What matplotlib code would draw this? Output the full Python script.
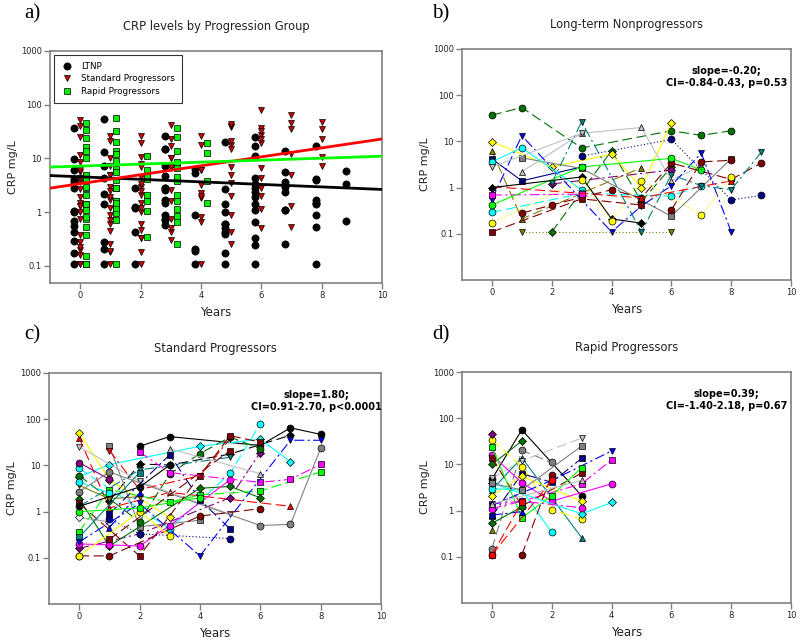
import numpy as np
import matplotlib
matplotlib.use("Agg")
import matplotlib.pyplot as plt

# ---------------- data ----------------
# Long-term nonprogressors: per-patient visit years and CRP (mg/L)
ltnp_years = [[0,1,3,6,7,8],[2,4,5,6],[0,2,4,5,6],[0,1,5],[0,1,3],[1,3,5,6,7],
              [1,3,6,8],[0,1,4,5,6,7,8],[0,1,3],[0,3,6,7],[1,2,4,5,6,8,9],[0,3,5],
              [6,7,8],[0,3],[2,6],[0,3,6,7],[0,5,8],[0,3,4,5],[0,3,4,5,7,8],
              [2,3,5,6,7,8,9],[1,6],[3,6,8,9],[0,3]]
ltnp_crp = [[37,54,7.2,17,13.5,17],[0.11,6.3,0.5,2.8],[9.9,2.8,5.3,1.0,25.6],[6.2,0.21,2.7],
            [4.2,1.4,2.8],[2.2,15,20,1.4,3.0],[4.4,2.6,0.24,4.2],[0.55,13.3,0.11,0.4,1.1,5.6,0.11],
            [3.6,7.3,0.9],[0.29,0.75,0.66,1.1],[0.28,0.42,0.9,0.6,3.4,1.5,3.4],[0.11,0.57,0.42],
            [0.33,3.6,3.9],[0.69,0.72],[1.2,2.4],[0.42,2.8,4.3,2.4],[1.05,0.6,1.4],[1.0,1.7,0.21,0.17],
            [0.17,1.45,0.19,1.4,0.26,1.7],[1.25,26.7,0.11,1.9,1.1,0.9,5.8],[0.11,0.11],
            [4.8,11,0.54,0.68],[2.8,15]]
ltnp_colors = ['darkgreen','darkgreen','yellow','olive','navy','silver','gray','blue','cyan','cyan',
               'darkred','darkred','darkred','magenta','purple','lime','red','black','yellow','teal',
               'olive','navy','silver']
ltnp_markers = ['o','D','D','^','s','^','s','v','o','o','o','s','o','s','D','o','^','D','o','v','v','o','v']
ltnp_lines = ['dash','dash','solid','dash','solid','solid','solid','dashdot','solid','dash','dash','dash',
              'dash','dashdot','dashdot','solid','dash','solid','dot','dashdot','dot','dot','solid']

# Standard progressors
sp_years = [[2,3,6,7,8],[1,2,3,5,7],[0,1,4,6,7],[0,3,5,6],[0,1,3,7],[0,1,3],[0,2,5],[1,2,4],
            [1,2,4,5],[0,1],[0,2,5,6],[0,2,3,4,5,6],[0,1,2],[0,1,6,7,8],[0,1,4,5,6],[0,2,4,5,6],
            [0,2,5],[0,1],[0,1,3,4,6,8],[0,2],[0,1,2,3,5],[2,3,6,7,8],[0,1,4,6],[1,3,4,5],
            [1,2,5],[1,2],[0,2,4,7,8],[0,2,3],[0,2,4],[3,6],[0,1],[1,5],[0,2,3]]
sp_crp = [[26,42,27,65,47],[1.7,10.7,10.2,17.6,45],[5.7,10.4,26,37,12],[8.6,0.42,6.8,79],
          [40,1.2,2.6,1.3],[51,4.9,0.75],[25.5,4.5,0.88],[26,0.47,0.65],[21,3.0,6,38],[11.5,5.0],
          [0.16,0.33,2.0,19],[6,0.6,6.5,18,41,23],[3.7,1.9,2.1],[2.7,7.2,0.5,0.53,23.5],
          [1.9,0.18,3.2,3.5,2.0],[1.5,0.11,6,44,32],[1.3,8,15],[0.75,0.6],[0.37,3.0,1.6,2.3,2.8,7.2],
          [0.28,7],[0.2,0.19,0.18,0.5,4.9],[19.5,7,4.3,5,10.5],[0.11,0.11,0.8,1.16],[0.9,17,1.8,0.42],
          [0.7,0.33,0.26],[0.45,2.5],[0.22,1.5,0.11,35,35],[0.11,1.0,0.3],[1.0,1.2,2.0],[23,6.6],
          [4.4,2.5],[0.25,21],[1.3,3.4,10.2]]
sp_colors = ['black','black','cyan','cyan','red','yellow','silver','gray','red','purple','purple',
             'darkgreen','olive','gray','darkgreen','darkred','teal','white','lime','teal','magenta',
             'magenta','darkred','navy','navy','blue','blue','yellow','lime','silver','cyan','darkred','black']
sp_markers = ['o','D','D','o','^','D','v','s','v','o','D','o','v','o','D','s','v','D','s','s','o','s',
              'o','s','o','^','v','o','o','^','o','s','o']
sp_lines = ['solid','dash','solid','dash','dash','solid','solid','solid','dashdot','solid','dashdot',
            'dash','solid','solid','solid','dash','dashdot','solid','dash','solid','solid','dashdot',
            'dash','dashdot','dot','dashdot','dashdot','solid','solid','solid','dashdot','dash','solid']

# Rapid progressors
rp_years = [[0,1,3],[0,1],[0,1,2],[0,1,3],[0,1,3],[0,1,2,3],[0,1,2,3],[0,1,3],[0,1,2,4],[0,1,2],
            [0,1,3,4],[0,1,3],[0,2,4],[0,1,2,3],[1,2],[0,2],[0,1],[0],[0,1],[0],[0,3,4],[0,1,3],
            [0,3],[0,1,3],[0,1]]
rp_crp = [[4.8,56,2.1],[10,32],[0.15,20,11],[2.8,14,0.26],[5,12,37],[34,9,1.05,0.65],
          [0.75,6.3,4.1,13.5],[2.1,5.5,1.6],[16,4,1.6,3.8],[3.0,2.8,0.34],[1.4,1.6,3.8,12.5],
          [14,1.25,6.5],[1.3,4.5,19.5],[24,0.7,2.1,8.5],[0.11,6],[0.11,4.5],[0.8,0.95],[45],
          [0.53,1.2],[0.38],[3.9,0.85,1.5],[1.1,1.6,1.15],[1.4,4.5],[3.9,2.8,25],[0.11,1.5]]
rp_colors = ['black','darkgreen','gray','teal','silver','yellow','navy','yellow','magenta','cyan',
             'magenta','darkred','blue','lime','darkred','red','blue','purple','darkgreen','olive',
             'cyan','magenta','silver','gray','red']
rp_markers = ['o','D','o','^','v','o','s','D','o','o','s','s','v','s','o','o','^','D','D','^','D','o',
              '^','s','s']
rp_lines = ['solid','solid','dash','solid','dash','dash','dashdot','solid','solid','solid','dashdot',
            'dash','dashdot','solid','dash','dash','dashdot','solid','solid','solid','solid','dashdot',
            'solid','solid','dash']

# Regression lines of panel a (log10 CRP vs years)
group_names = ['LTNP', 'Standard Progressors', 'Rapid Progressors']
fit_crp_at_year0 = [4.55, 3.39, 7.2]
fit_log10_slope = [-0.0235, 0.0832, 0.0184]

panel_titles = ['CRP levels by Progression Group', 'Long-term Nonprogressors',
                'Standard Progressors', 'Rapid Progressors']
slope_text = ['slope=-0.20;\nCI=-0.84-0.43, p=0.53',
              'slope=1.80;\nCI=0.91-2.70, p<0.0001',
              'slope=0.39;\nCI=-1.40-2.18, p=0.67']
ytick_vals = [0.01, 0.1, 1, 10, 100, 1000]
ytick_labels = ['0.01', '0.1', '1', '10', '100', '1000']
xtick_vals = [0, 2, 4, 6, 8, 10]

# ---------------- styles ----------------
cmap = {'black':'#000000','red':'#FF0000','yellow':'#FFFF00','lime':'#00FF00','blue':'#0000FF',
        'magenta':'#FF00FF','cyan':'#00FFFF','silver':'#C0C0C0','gray':'#808080','darkred':'#800000',
        'darkgreen':'#007000','navy':'#000080','olive':'#808000','purple':'#800080','teal':'#008080',
        'white':'#FFFFFF'}
lsmap = {'solid':'-', 'dash':(0,(9,4)), 'dot':(0,(1,2)), 'dashdot':(0,(9,3,2,3))}

fig = plt.figure(figsize=(8, 6.44), dpi=100)
W, H = 800, 644
def add_ax(l, t, r, b):
    return fig.add_axes([l/W, 1-b/H, (r-l)/W, (b-t)/H])

ax_a = add_ax(50, 51, 382, 283)
ax_b = add_ax(462, 49, 791, 280)
ax_c = add_ax(49, 373, 381, 604)
ax_d = add_ax(462, 372, 791, 603)

spine_col = '#808080'
def style(ax, ymin):
    ax.set_yscale('log')
    ax.set_xlim(-1, 10)
    ax.set_ylim(ymin, 1000)
    ax.set_xticks(xtick_vals)
    ax.set_xticklabels([str(v) for v in xtick_vals])
    yt = [v for v in ytick_vals if v >= ymin * 1.01]
    ax.set_yticks(yt)
    ax.set_yticklabels([ytick_labels[ytick_vals.index(v)] for v in yt])
    ax.yaxis.set_minor_locator(matplotlib.ticker.NullLocator())
    ax.tick_params(direction='out', length=4, width=1, color=spine_col, labelsize=6,
                   labelcolor='#222222', pad=2)
    for s in ax.spines.values():
        s.set_color(spine_col)
        s.set_linewidth(1.2)
    ax.set_xlabel('Years', fontsize=8.5, color='#222222')
    ax.set_ylabel('CRP mg/L', fontsize=8, color='#222222')
    ax.yaxis.set_label_coords(-0.097, 0.5)
    ax.xaxis.set_label_coords(0.5, -0.1)

# ---- panel a ----
style(ax_a, 0.048)
offsets = [-0.2, 0.0, 0.2]
amark = ['o', 'v', 's']
acol = ['#000000', '#CC0000', '#00EE00']
aline = ['#000000', '#FF0000', '#00FF00']
for gi, (yrs, vals) in enumerate([(ltnp_years, ltnp_crp), (sp_years, sp_crp), (rp_years, rp_crp)]):
    xs = np.concatenate([np.array(y, float) for y in yrs]) + offsets[gi]
    vs = np.concatenate([np.array(v, float) for v in vals])
    ax_a.plot(xs, vs, linestyle='none', marker=amark[gi], ms=5 if gi != 0 else 5.2,
              mfc=acol[gi], mec='#000000', mew=0.5, label=group_names[gi], zorder=3)
xx = np.array([-1.0, 10.0])
for gi in range(3):
    ax_a.plot(xx, fit_crp_at_year0[gi] * 10 ** (fit_log10_slope[gi] * xx), color=aline[gi], lw=2,
              zorder=4)
leg = ax_a.legend(loc='upper left', fontsize=6.3, frameon=True, fancybox=False, edgecolor='#000000',
                  borderpad=0.8, labelspacing=0.4, handletextpad=1.0, borderaxespad=0.45,
                  handlelength=1.3)
leg.get_frame().set_linewidth(0.8)

# ---- spaghetti panels ----
def spaghetti(ax, yrs, vals, cols, marks, lines):
    style(ax, 0.01)
    for y, v, c, m, l in zip(yrs, vals, cols, marks, lines):
        lc = cmap[c] if c != 'white' else '#A0A0A0'
        ax.plot(y, v, color=lc, ls=lsmap[l], lw=0.8, marker=m, ms=5.0 if m != 'D' else 4.5,
                mfc=cmap[c], mec='#000000', mew=0.5)

spaghetti(ax_b, ltnp_years, ltnp_crp, ltnp_colors, ltnp_markers, ltnp_lines)
spaghetti(ax_c, sp_years, sp_crp, sp_colors, sp_markers, sp_lines)
spaghetti(ax_d, rp_years, rp_crp, rp_colors, rp_markers, rp_lines)

for ax, txt in zip([ax_b, ax_c, ax_d], slope_text):
    ax.text(0.805, 0.88, txt, transform=ax.transAxes, ha='center', va='center', fontsize=7,
            fontweight='bold', linespacing=1.2)

# titles and panel letters
for ax, t in zip([ax_a, ax_b, ax_c, ax_d], panel_titles):
    ax.set_title(t, fontsize=8.3, pad=15, color='#222222')
for (x, y), lab in zip([(24, 14), (432, 14), (24, 335), (432, 335)], ['a)', 'b)', 'c)', 'd)']):
    fig.text(x / W, 1 - y / H, lab, fontsize=15, family='Liberation Serif', va='center', ha='left')

fig.savefig('out.png', dpi=100)
